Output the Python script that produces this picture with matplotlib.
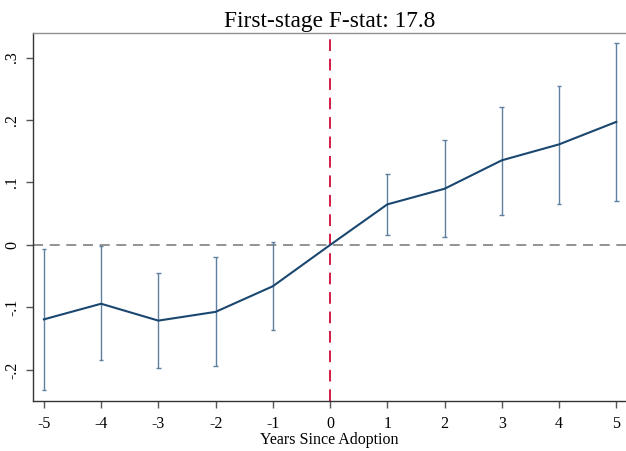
import matplotlib
matplotlib.use("Agg")
import matplotlib.pyplot as plt
import numpy as np

years = [-5, -4, -3, -2, -1, 0, 1, 2, 3, 4, 5]
coef = [-0.119, -0.094, -0.121, -0.107, -0.066, 0.0, 0.065, 0.090, 0.1355, 0.161, 0.197]
ci_low = [-0.2325, -0.1845, -0.197, -0.193, -0.136, None, 0.0155, 0.0133, 0.0485, 0.0656, 0.070]
ci_high = [-0.0064, -0.002, -0.045, -0.020, 0.004, None, 0.114, 0.168, 0.221, 0.255, 0.324]
yticks = [-0.2, -0.1, 0.0, 0.1, 0.2, 0.3]
ytick_labels = ["-.2", "-.1", "0", ".1", ".2", ".3"]
title = "First-stage F-stat: 17.8"
xlabel = "Years Since Adoption"

plt.rcParams['font.family'] = ['Liberation Serif', 'DejaVu Serif']

fig = plt.figure(figsize=(6.26, 4.51), dpi=100)
ax = fig.add_axes([0.0527, 0.1109, 0.9473, 0.8166])

ax.axhline(0, color='#808080', lw=1.2, ls=(0, (6, 4)), zorder=1)
ax.axvline(0, color='#d41a45', lw=1.4, ls=(0, (6, 4)), zorder=2)

ex = [x for x, l in zip(years, ci_low) if l is not None]
el = [l for l in ci_low if l is not None]
eh = [h for h in ci_high if h is not None]
ax.vlines(ex, el, eh, color='#5f7f9f', lw=1.0, zorder=3)
cap = 0.04
ax.hlines(el, np.array(ex) - cap, np.array(ex) + cap, color='#5f7f9f', lw=1.0, zorder=3)
ax.hlines(eh, np.array(ex) - cap, np.array(ex) + cap, color='#5f7f9f', lw=1.0, zorder=3)

ax.plot(years, coef, color='#1a476f', lw=1.5, zorder=4)

ax.set_xlim(-5.19, 5.17)
ax.set_ylim(-0.2496, 0.3397)
ax.set_xticks(years)
ax.set_xticklabels([str(y) for y in years], fontsize=11.5)
ax.set_yticks(yticks)
ax.set_yticklabels(ytick_labels, fontsize=11.5, rotation=90, va='center')
ax.tick_params(axis='both', direction='out', length=5, width=1, color='#555555')
ax.tick_params(axis='x', pad=6)
ax.tick_params(axis='y', pad=4)

ax.spines['right'].set_visible(False)
ax.spines['top'].set_color('#909090')
ax.spines['left'].set_color('#333333')
ax.spines['bottom'].set_color('#333333')
for s in ['top', 'left', 'bottom']:
    ax.spines[s].set_linewidth(1.0)

ax.set_title(title, fontsize=16.8, pad=4)
ax.set_xlabel(xlabel, fontsize=11.5, labelpad=0)

fig.savefig("out.png", dpi=100)
